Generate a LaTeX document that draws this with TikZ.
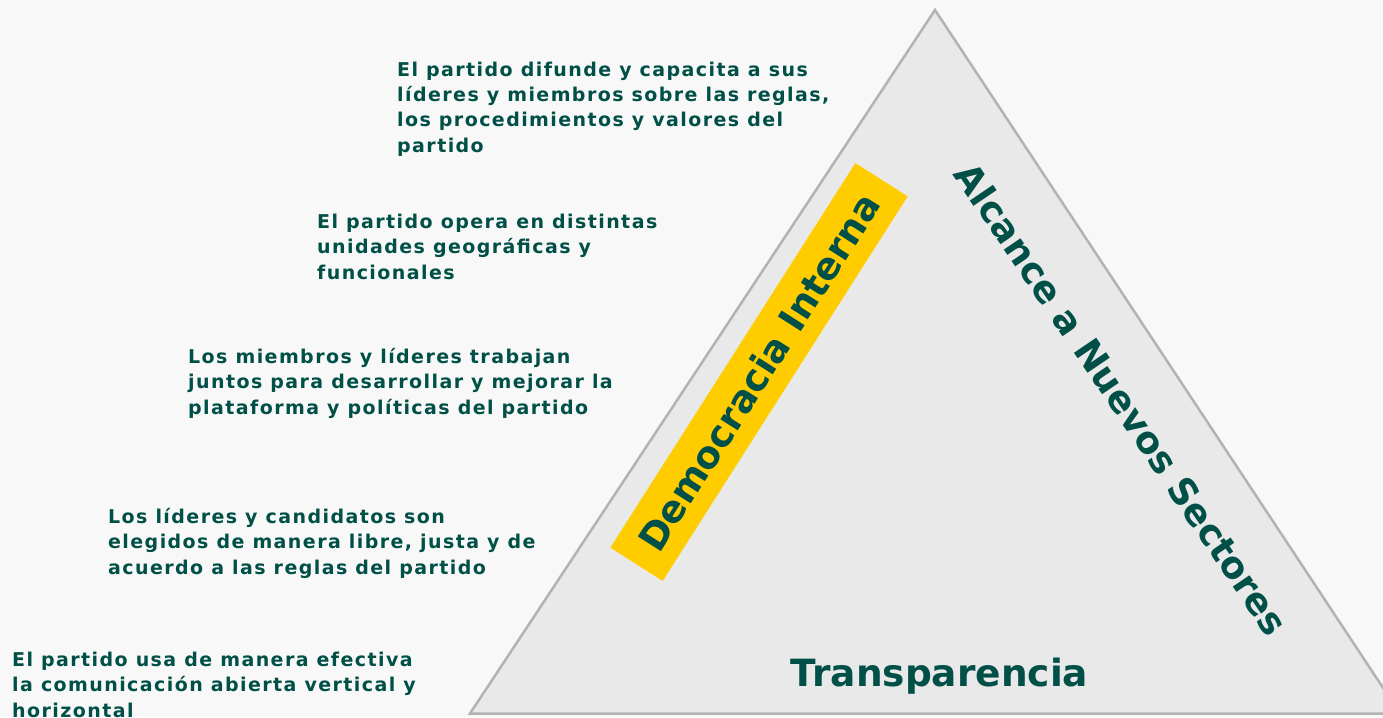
\documentclass[tikz,border=0pt]{standalone}
\usepackage{fontspec}
\setmainfont{DejaVu Sans}
\newfontfamily\smallfont[LetterSpace=7.5]{DejaVu Sans Bold}
\newfontfamily\bigfont{DejaVu Sans Bold}
\definecolor{bgc}{HTML}{F8F8F8}
\definecolor{trifill}{HTML}{E9E9E9}
\definecolor{triline}{HTML}{B3B3B3}
\definecolor{txtc}{HTML}{005048}
\definecolor{yel}{HTML}{FFCC00}
\tikzset{
  desc/.style={anchor=base west, inner sep=0pt, text=txtc},
  title/.style={inner sep=0pt, text=txtc, font=\bigfont\fontsize{37.5}{40}\selectfont},
}
\newcommand{\desctext}[1]{\parbox[t]{560pt}{\smallfont\fontsize{19}{25.5}\selectfont\raggedright #1\par}}
\begin{document}
\begin{tikzpicture}[x=1pt,y=-1pt]
\useasboundingbox (0,0) rectangle (1383,717);
\clip (0,0) rectangle (1383,717);
\fill[bgc] (0,0) rectangle (1383,717);
\filldraw[fill=trifill, draw=triline, line width=2.5pt, line join=miter]
  (935,10) coordinate (apex) -- (1400,713.5) coordinate (br) -- (470,713.5) coordinate (bl) -- cycle;
\node[fill=yel, rotate=57.5, minimum width=456pt, minimum height=62pt, inner sep=0pt, text=txtc, font=\bigfont\fontsize{37.5}{40}\selectfont] (dem) at (759,372) {Democracia Interna};
\node[title, rotate=-55.8, font=\bigfont\fontsize{37}{40}\selectfont] (alc) at (1122,399) {Alcance a Nuevos Sectores};
\node[title, anchor=base] (tra) at (939.5,686) {Transparencia};
\node[desc] (d1) at (397,76) {\desctext{El partido difunde y capacita a sus\\ líderes y miembros sobre las reglas,\\ los procedimientos y valores del\\ partido}};
\node[desc] (d2) at (317,228) {\desctext{El partido opera en distintas\\ unidades geográficas y\\ funcionales}};
\node[desc] (d3) at (188,363) {\desctext{Los miembros y líderes trabajan\\ juntos para desarrollar y mejorar la\\ plataforma y políticas del partido}};
\node[desc] (d4) at (108,523) {\desctext{Los líderes y candidatos son\\ elegidos de manera libre, justa y de\\ acuerdo a las reglas del partido}};
\node[desc] (d5) at (12,666) {\desctext{El partido usa de manera efectiva\\ la comunicación abierta vertical y\\ horizontal}};
\end{tikzpicture}
\end{document}
